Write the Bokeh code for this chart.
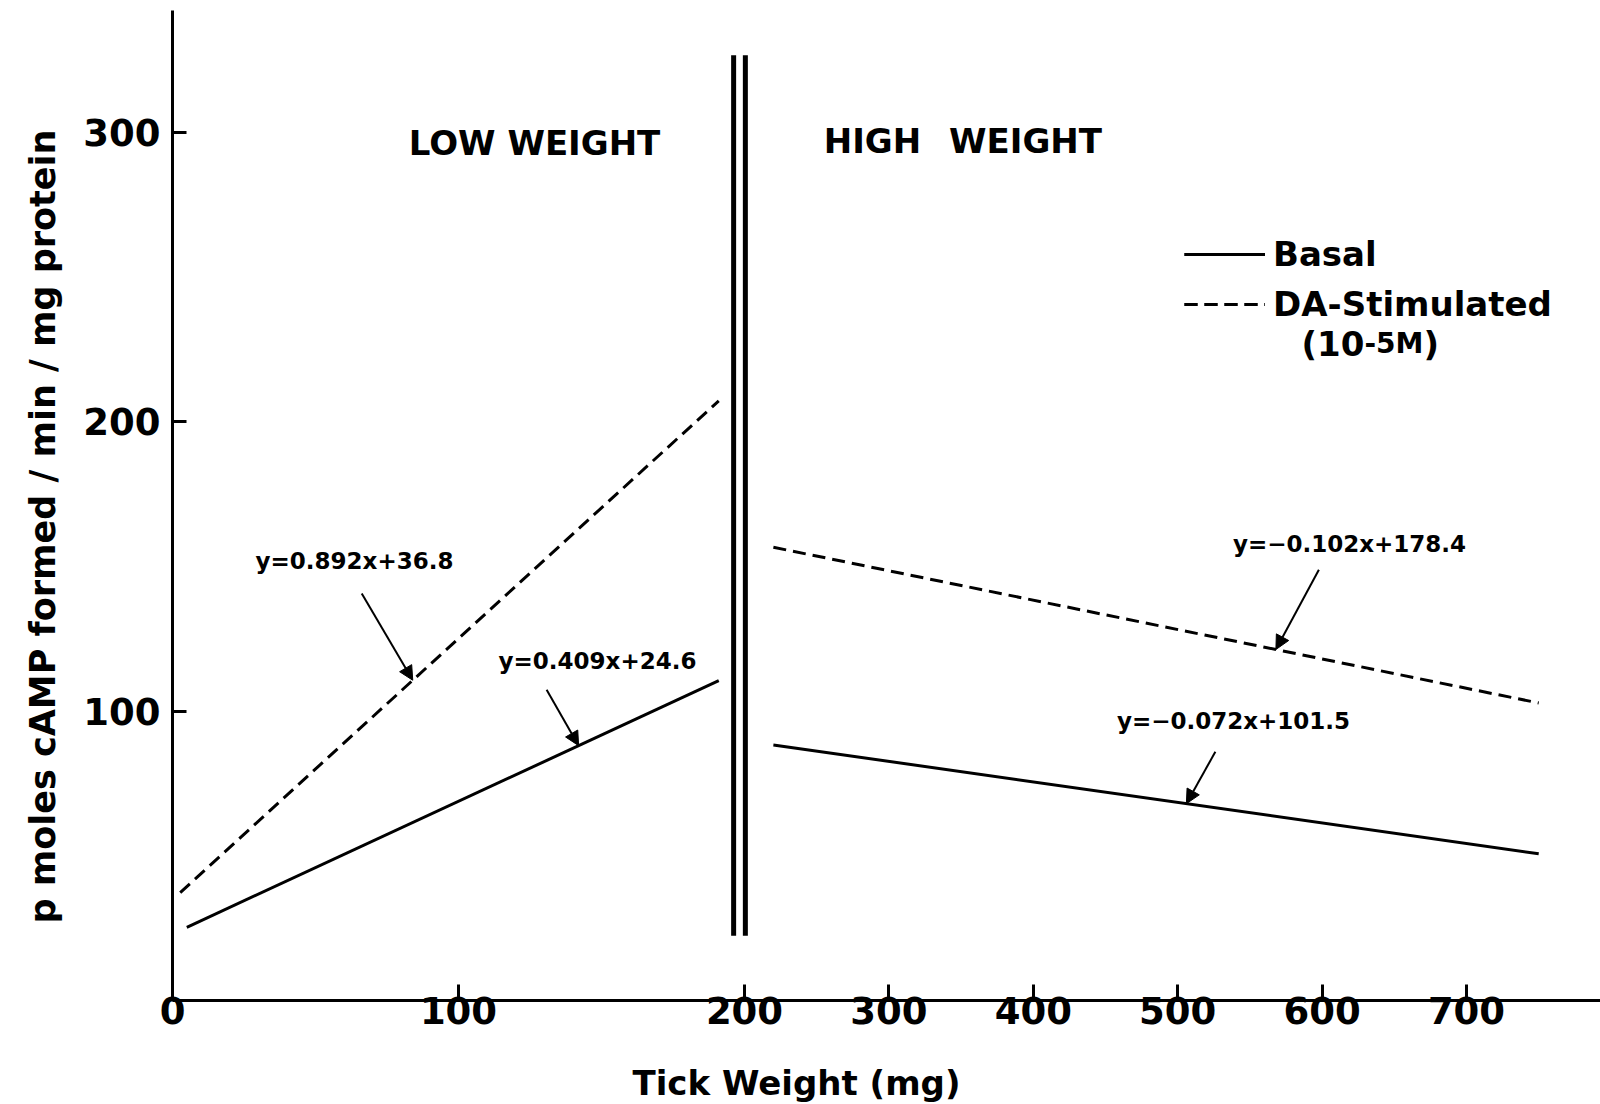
import numpy as np
from bokeh.plotting import figure
from bokeh.models import (Range1d, FixedTicker, Label, Arrow, NormalHead,
                          Legend, LegendItem, Title)
from bokeh.embed import file_html
from bokeh.resources import INLINE

# ---------------- data ----------------
low_basal_x = [5.0, 191.0]
low_basal_y = [25.3, 110.5]
low_da_x = [2.7, 191.0]
low_da_y = [37.3, 207.2]
high_basal_x = [220.0, 750.0]
high_basal_y = [88.3, 50.7]
high_da_x = [220.0, 750.0]
high_da_y = [156.6, 102.8]

y_ticks = [100, 200, 300]
x_ticks_low = [0, 100, 200]
x_ticks_high = [300, 400, 500, 600, 700]

equations = ["y=0.892x+36.8", "y=0.409x+24.6", "y=\u22120.102x+178.4", "y=\u22120.072x+101.5"]
eq_tip_x = [84.0, 142.0, 568.0, 506.0]          # where each arrow touches its line
break_x = [196.2, 200.3]
break_y = [22.4, 326.6]

# ---------------- geometry ----------------
W, H = 1600, 1104
FL, FR, FT, FB = 172, 1600, 10, 1002
FW, FH = FR - FL, FB - FT
LO = (0.0, FW / 2.86)
HI = (200 - (744 - FL) / 1.444, 200 + (FR - 744) / 1.444)
YR = (0.0, FH / 2.9)

def lo_x(px):
    return LO[0] + (px - FL) / FW * (LO[1] - LO[0])

def hi_x(px):
    return HI[0] + (px - FL) / FW * (HI[1] - HI[0])

def y_at(py):
    return YR[0] + (FB - py) / FH * (YR[1] - YR[0])

def hi_to_lo(v):
    return round(LO[0] + (v - HI[0]) / (HI[1] - HI[0]) * (LO[1] - LO[0]), 2)

FONT = "DejaVu Sans"

p = figure(width=W, height=H, x_range=Range1d(*LO), y_range=Range1d(*YR),
           output_backend="svg", toolbar_location=None,
           min_border_left=FL, min_border_right=0, min_border_top=FT,
           min_border_bottom=H - FB)
p.extra_x_ranges = {"high": Range1d(*HI)}
p.grid.visible = False
p.outline_line_color = None
p.background_fill_color = "white"
p.border_fill_color = "white"

# x axis
xa = p.xaxis[0]
high_pos = [hi_to_lo(v) for v in x_ticks_high]
xa.ticker = FixedTicker(ticks=x_ticks_low + high_pos)
overrides = {v: str(v) for v in x_ticks_low}
overrides.update({pos: str(v) for pos, v in zip(high_pos, x_ticks_high)})
xa.major_label_overrides = overrides
# y axis
ya = p.yaxis[0]
ya.ticker = FixedTicker(ticks=y_ticks)

for ax in (xa, ya):
    ax.axis_line_width = 3
    ax.axis_line_color = "black"
    ax.major_tick_line_width = 3
    ax.major_tick_line_color = "black"
    ax.major_tick_out = 0
    ax.minor_tick_line_color = None
    ax.major_label_text_font = FONT
    ax.major_label_text_font_style = "bold"
    ax.major_label_text_font_size = "37px"
    ax.major_label_text_color = "black"
xa.major_tick_in = 16
xa.major_label_standoff = -4
# blank spacer label, so the title below sits lower
xa.axis_label = " "
xa.axis_label_text_font_size = "10px"
xa.axis_label_standoff = 18
ya.major_tick_in = 14
ya.major_label_standoff = 12

# axis titles (as side titles so that they can be offset)
p.add_layout(Title(text="p moles cAMP formed / min / mg protein", align="left",
                   offset=77, standoff=36, text_font=FONT, text_font_style="bold",
                   text_font_size="35px", text_color="black"), "left")
p.add_layout(Title(text="Tick Weight (mg)", align="left", offset=460, standoff=4,
                   text_font=FONT, text_font_style="bold", text_font_size="34px",
                   text_color="black"), "below")

# lines
r_lb = p.line(low_basal_x, low_basal_y, line_width=3, line_color="black")
r_ld = p.line(low_da_x, low_da_y, line_width=3, line_color="black", line_dash="13 7")
r_hb = p.line(high_basal_x, high_basal_y, line_width=3, line_color="black", x_range_name="high")
r_hd = p.line(high_da_x, high_da_y, line_width=3, line_color="black", line_dash="13 7",
              x_range_name="high")

# axis break
p.segment(x0=break_x, y0=[break_y[0]] * 2, x1=break_x, y1=[break_y[1]] * 2,
          line_width=5, line_color="black")

# equation labels and arrows
eq_lines = [(low_da_x, low_da_y, "default"), (low_basal_x, low_basal_y, "default"),
            (high_da_x, high_da_y, "high"), (high_basal_x, high_basal_y, "high")]
eq_text_px = [(354, 562), (597, 662), (1349, 545), (1233, 722)]
tail_off_px = [(-51, -87), (-32, -56), (43, -80), (29, -52)]
for text, tipx, (lx, ly, rn), (tx, ty), (dx, dy) in zip(equations, eq_tip_x, eq_lines,
                                                         eq_text_px, tail_off_px):
    tipy = float(np.interp(tipx, lx, ly))
    xs = LO if rn == "default" else HI
    per_px = (xs[1] - xs[0]) / FW
    p.add_layout(Label(x=lo_x(tx), y=y_at(ty), text=text, text_align="center",
                       text_baseline="middle", text_font=FONT, text_font_style="bold",
                       text_font_size="23px", text_color="black"))
    p.add_layout(Arrow(end=NormalHead(size=14, fill_color="black", line_color="black"),
                       x_start=tipx + dx * per_px, y_start=tipy - dy * (YR[1] - YR[0]) / FH,
                       x_end=tipx, y_end=tipy, line_width=2, line_color="black",
                       x_range_name=rn))

# section headers
for text, (tx, ty) in [("LOW WEIGHT", (534, 143)), ("HIGH", (872, 141)), ("WEIGHT", (1025, 141))]:
    p.add_layout(Label(x=lo_x(tx), y=y_at(ty), text=text, text_align="center",
                       text_baseline="middle", text_font=FONT, text_font_style="bold",
                       text_font_size="34px", text_color="black"))

# legend
legend = Legend(items=[LegendItem(label="Basal", renderers=[r_lb, r_hb]),
                       LegendItem(label="DA-Stimulated", renderers=[r_ld, r_hd])],
                location=(1184 - FL, FB - 326), padding=0, margin=0, spacing=10,
                glyph_width=81, glyph_height=40, label_height=40, label_standoff=8,
                background_fill_alpha=0, border_line_color=None,
                label_text_font=FONT, label_text_font_style="bold",
                label_text_font_size="34px", label_text_color="black")
p.add_layout(legend)
for text, tx, size in [("(10", 1301, "34px"), ("-5M", 1364, "28px"), (")", 1423, "34px")]:
    p.add_layout(Label(x=lo_x(tx), y=y_at(344), text=text, text_align="left",
                       text_baseline="middle", text_font=FONT, text_font_style="bold",
                       text_font_size=size, text_color="black"))

open("out.html", "w").write(file_html(p, INLINE))
